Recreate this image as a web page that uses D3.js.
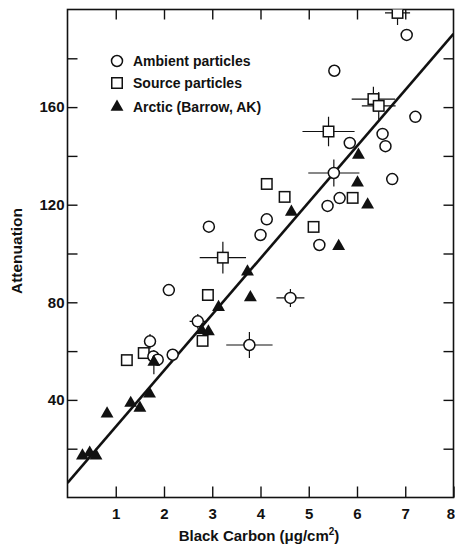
<!DOCTYPE html>
<html>
<head>
<meta charset="utf-8">
<title>Attenuation vs Black Carbon</title>
<script src="https://cdn.jsdelivr.net/npm/d3@7"></script>
<style>
  body { margin: 0; background: #fff; }
  text { font-family: "Liberation Sans", Arial, sans-serif; font-weight: bold; fill: #111; }
</style>
</head>
<body>
<script>
// [x, y, xErr, yErr]
var ambient = [
  [5.53, 174.9, 0, 0], [7.03, 189.6, 0, 0], [7.21, 156, 0, 0], [6.53, 149, 0, 0],
  [6.59, 144, 0, 0], [5.85, 145.3, 0, 0], [5.52, 133, 0.53, 5.5], [6.73, 130.5, 0, 0],
  [5.64, 122.7, 0, 0], [5.39, 119.5, 0, 0], [5.22, 103.5, 0, 0], [4.13, 114, 0, 0],
  [4.0, 107.6, 0, 0], [2.93, 111, 0, 0], [2.10, 85, 0, 0], [4.62, 81.8, 0.29, 3.7],
  [3.77, 62.5, 0.48, 5.3], [2.70, 72.2, 0.17, 3], [1.71, 64, 0, 3], [1.78, 57.8, 0, 0],
  [1.87, 56.5, 0, 0], [2.18, 58.5, 0, 0]
];
var source = [
  [6.84, 198.6, 0.26, 5], [6.34, 163.3, 0.45, 5], [6.45, 160.5, 0.35, 5.7],
  [5.41, 150, 0.54, 6], [5.91, 122.8, 0, 0], [5.10, 110.9, 0, 0], [4.13, 128.5, 0, 0],
  [4.50, 123.2, 0, 0], [3.22, 98.3, 0.48, 6.5], [2.91, 83, 0, 0], [2.80, 64.2, 0, 0],
  [1.23, 56.3, 0, 0], [1.58, 59.2, 0, 0]
];
var arctic = [
  [6.03, 140.4, 0, 0], [6.01, 129, 0, 0], [6.22, 120, 0, 0], [5.62, 103, 0, 0],
  [4.64, 117, 0, 0], [3.73, 92.5, 0, 0], [3.79, 82, 0, 0], [3.13, 78, 0, 0],
  [2.78, 68.5, 0, 0], [2.92, 68, 0, 0], [1.79, 55.5, 0, 5], [1.70, 42.5, 0, 0],
  [1.31, 38.7, 0, 0], [1.50, 36.7, 0, 0], [0.82, 34.3, 0, 0], [0.31, 17.1, 0, 0],
  [0.46, 18.3, 0, 0], [0.59, 17.1, 0, 0]
];
var fitX = [0, 8];
var fitY = [6, 190];
var xTicks = [1, 2, 3, 4, 5, 6, 7, 8];
var yTicks = [20, 40, 60, 80, 100, 120, 140, 160, 180];
var yLabels = [40, 80, 120, 160];
var legendNames = ["Ambient particles", "Source particles", "Arctic (Barrow, AK)"];

var W = 455, H = 545;
var svg = d3.select("body").append("svg").attr("width", W).attr("height", H);

var x = d3.scaleLinear().domain([0, 8]).range([67.5, 453.5]);
var y = d3.scaleLinear().domain([0, 200]).range([497.5, 9.5]);

svg.append("clipPath").attr("id", "plot")
  .append("rect").attr("x", x(0)).attr("y", y(200))
  .attr("width", x(8) - x(0)).attr("height", y(0) - y(200));

// axes, ticks pointing inward
var axB = svg.append("g").attr("transform", "translate(0," + y(0) + ")")
  .call(d3.axisBottom(x).tickValues(xTicks).tickSize(-11).tickPadding(16).tickFormat(d3.format("d")));
var axT = svg.append("g").attr("transform", "translate(0," + y(200) + ")")
  .call(d3.axisTop(x).tickValues(xTicks.slice(0, 7)).tickSize(-10).tickFormat(""));
var axL = svg.append("g").attr("transform", "translate(" + x(0) + ",0)")
  .call(d3.axisLeft(y).tickValues(yTicks).tickSize(-10).tickPadding(3)
    .tickFormat(function(d) { return yLabels.indexOf(d) >= 0 ? d : ""; }));
var axR = svg.append("g").attr("transform", "translate(" + x(8) + ",0)")
  .call(d3.axisRight(y).tickValues(yTicks).tickSize(-10).tickFormat(""));

[axB, axT, axL, axR].forEach(function(g) {
  g.select(".domain").remove();
  g.selectAll(".tick line").attr("stroke", "#111").attr("stroke-width", 1.4);
  g.selectAll(".tick text").style("font-size", "15px").attr("fill", "#111");
});
axB.selectAll(".tick text").attr("dy", "0.35em");
axB.selectAll(".tick text").filter(function(d) { return d === 8; })
  .attr("text-anchor", "end").attr("dx", 1);

svg.append("rect")
  .attr("x", x(0)).attr("y", y(200))
  .attr("width", x(8) - x(0)).attr("height", y(0) - y(200))
  .attr("fill", "none").attr("stroke", "#111").attr("stroke-width", 1.6);

var plot = svg.append("g").attr("clip-path", "url(#plot)");

// regression line
plot.append("line")
  .attr("x1", x(fitX[0])).attr("y1", y(fitY[0]))
  .attr("x2", x(fitX[1])).attr("y2", y(fitY[1]))
  .attr("stroke", "#111").attr("stroke-width", 2.6);

// error bars
var all = ambient.concat(source, arctic);
var bars = plot.append("g").attr("stroke", "#111").attr("stroke-width", 1.2);
all.forEach(function(d) {
  if (d[2] > 0) bars.append("line")
    .attr("x1", x(d[0] - d[2])).attr("x2", x(d[0] + d[2]))
    .attr("y1", y(d[1])).attr("y2", y(d[1]));
  if (d[3] > 0) bars.append("line")
    .attr("x1", x(d[0])).attr("x2", x(d[0]))
    .attr("y1", y(d[1] - d[3])).attr("y2", y(d[1] + d[3]));
});

var sq = 10.5;
var tri = d3.symbol().type(d3.symbolTriangle).size(72);

plot.selectAll("rect.src").data(source).enter().append("rect")
  .attr("x", function(d) { return x(d[0]) - sq / 2; })
  .attr("y", function(d) { return y(d[1]) - sq / 2; })
  .attr("width", sq).attr("height", sq)
  .attr("fill", "#fff").attr("stroke", "#111").attr("stroke-width", 1.5);

plot.selectAll("circle.amb").data(ambient).enter().append("circle")
  .attr("cx", function(d) { return x(d[0]); })
  .attr("cy", function(d) { return y(d[1]); })
  .attr("r", 5.5)
  .attr("fill", "#fff").attr("stroke", "#111").attr("stroke-width", 1.5);

plot.selectAll("path.arc").data(arctic).enter().append("path")
  .attr("d", tri)
  .attr("transform", function(d) { return "translate(" + x(d[0]) + "," + y(d[1]) + ")"; })
  .attr("fill", "#111");

// legend
var lg = svg.append("g");
var ly = [61, 83, 107];
lg.append("circle").attr("cx", 117).attr("cy", ly[0]).attr("r", 5.5)
  .attr("fill", "#fff").attr("stroke", "#111").attr("stroke-width", 1.5);
lg.append("rect").attr("x", 117 - sq / 2).attr("y", ly[1] - sq / 2).attr("width", sq).attr("height", sq)
  .attr("fill", "#fff").attr("stroke", "#111").attr("stroke-width", 1.5);
lg.append("path").attr("d", tri).attr("transform", "translate(117," + ly[2] + ")").attr("fill", "#111");
legendNames.forEach(function(n, i) {
  lg.append("text").attr("x", 133).attr("y", ly[i] + 5).style("font-size", "14px").text(n);
});

// axis titles
var xt = svg.append("text").attr("x", 259).attr("y", 541).attr("text-anchor", "middle")
  .style("font-size", "15px");
xt.append("tspan").text("Black Carbon (\u03bcg/cm");
xt.append("tspan").attr("dy", -6).style("font-size", "10px").text("2");
xt.append("tspan").attr("dy", 6).text(")");

svg.append("text").attr("transform", "translate(22,251) rotate(-90)")
  .attr("text-anchor", "middle").style("font-size", "15.5px").text("Attenuation");
</script>
</body>
</html>
